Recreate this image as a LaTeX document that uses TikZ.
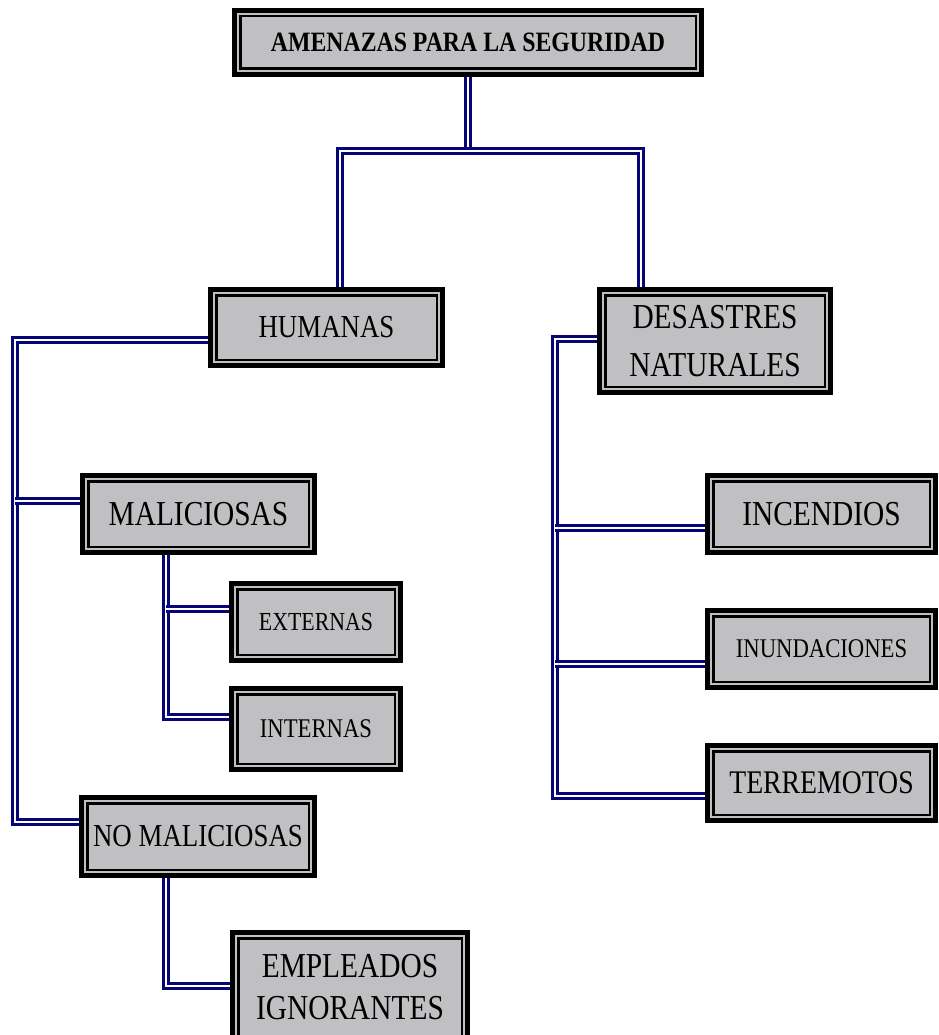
\documentclass[tikz,border=0pt]{standalone}
\usepackage{fontspec}
\newfontfamily\rf[FakeStretch=0.84]{Liberation Serif}
\newfontfamily\tbf[FakeStretch=0.85]{Liberation Serif}
\usetikzlibrary{backgrounds}
\definecolor{boxgray}{RGB}{192,192,194}
\definecolor{linenavy}{RGB}{5,5,120}
\tikzset{
  bx/.style={rectangle, draw=black, line width=5pt, fill=boxgray, inner sep=0pt, outer sep=0pt, align=center, text=black},
  innerband/.style={draw=black, line width=2.5pt},
  conn/.style={draw=linenavy, line width=2.6pt, double=white, double distance=2.6pt, line join=miter},
}
\begin{document}
\begin{tikzpicture}[x=1pt,y=-1pt]
\useasboundingbox (0,0) rectangle (938,1035);
% boxes
\node[bx, minimum width=467pt, minimum height=64pt, font={\tbf\bfseries\fontsize{28}{30}\selectfont}] (T) at (468,42.5) {AMENAZAS PARA LA SEGURIDAD};
\node[bx, minimum width=232pt, minimum height=76pt, font={\rf\fontsize{32}{36}\selectfont}] (hum) at (326.5,327.5) {HUMANAS};
\node[bx, minimum width=231pt, minimum height=103pt, font={\rf\fontsize{35}{48}\selectfont}] (des) at (715,341) {DESASTRES\\NATURALES};
\node[bx, minimum width=232pt, minimum height=77pt, font={\rf\fontsize{35}{38}\selectfont}] (mal) at (198.5,514) {MALICIOSAS};
\node[bx, minimum width=169pt, minimum height=77pt, font={\rf\fontsize{26}{30}\selectfont}] (ext) at (316,622) {EXTERNAS};
\node[bx, minimum width=169pt, minimum height=81pt, font={\rf\fontsize{27}{30}\selectfont}] (int) at (316,729) {INTERNAS};
\node[bx, minimum width=233pt, minimum height=78pt, font={\rf\fontsize{32}{36}\selectfont}] (nom) at (198,836.5) {NO MALICIOSAS};
\node[bx, minimum width=235pt, minimum height=110pt, font={\rf\fontsize{35}{42}\selectfont}] (emp) at (350,987.5) {EMPLEADOS\\IGNORANTES};
\node[bx, minimum width=228pt, minimum height=77pt, font={\rf\fontsize{35}{38}\selectfont}] (inc) at (821.5,514) {INCENDIOS};
\node[bx, minimum width=228pt, minimum height=77pt, font={\rf\fontsize{27}{30}\selectfont}] (inu) at (821.5,649) {INUNDACIONES};
\node[bx, minimum width=228pt, minimum height=75pt, font={\rf\fontsize{33}{36}\selectfont}] (ter) at (821.5,783) {TERREMOTOS};
\foreach \n in {T,hum,des,mal,ext,int,nom,emp,inc,inu,ter}
  \draw[innerband] ([shift={(5.75pt,-5.75pt)}]\n.north west) rectangle ([shift={(-5.75pt,5.75pt)}]\n.south east);
% connector points
\coordinate (j1) at (468,151);
\coordinate (a1) at (340,151);
\coordinate (a2) at (641,151);
\coordinate (l1) at (15,340);
\coordinate (l2) at (15,501);
\coordinate (l3) at (15,822);
\coordinate (m1) at (166,609);
\coordinate (m2) at (166,717);
\coordinate (n1) at (166,986);
\coordinate (r1) at (555,339);
\coordinate (r2) at (555,528);
\coordinate (r3) at (555,664);
\coordinate (r4) at (555,796);
\begin{pgfonlayer}{background}
\fill[white] (0,0) rectangle (938,1035);
\draw[conn] (T.south) -- (j1);
\draw[conn] (hum.north -| a1) -- (a1) -- (a2) -- (des.north -| a2);
\draw[conn] (hum.west |- l1) -- (l1) -- (l3) -- (nom.west |- l3);
\draw[conn] (l2) -- (mal.west |- l2);
\draw[conn] (mal.south -| m1) -- (m2) -- (int.west |- m2);
\draw[conn] (m1) -- (ext.west |- m1);
\draw[conn] (nom.south -| n1) -- (n1) -- (emp.west |- n1);
\draw[conn] (des.west |- r1) -- (r1) -- (r4) -- (ter.west |- r4);
\draw[conn] (r2) -- (inc.west |- r2);
\draw[conn] (r3) -- (inu.west |- r3);
\end{pgfonlayer}
\end{tikzpicture}
\end{document}
